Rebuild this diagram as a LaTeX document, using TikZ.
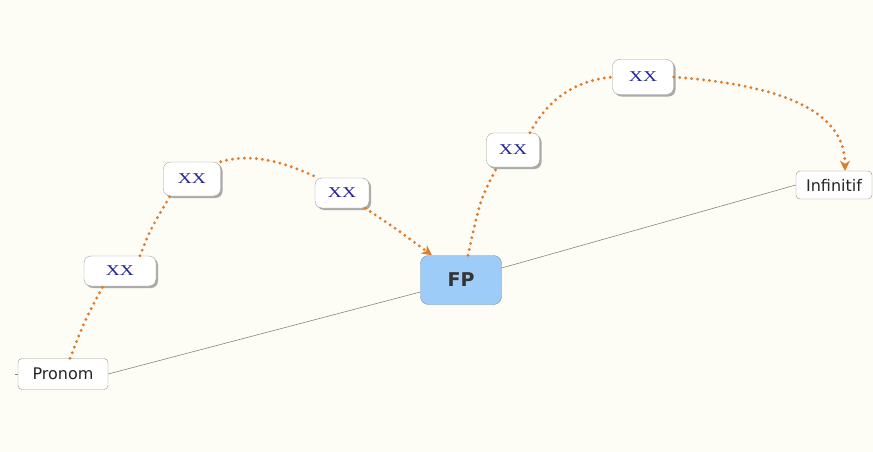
\documentclass[tikz,border=0pt]{standalone}
\usepackage{fontspec}
\setsansfont{DejaVu Sans}
\newfontfamily\xxfont{Liberation Serif}
\usetikzlibrary{shadows,arrows.meta}
\definecolor{bgc}{HTML}{FDFDF6}
\definecolor{dotc}{HTML}{E07B28}
\definecolor{xxc}{HTML}{22229A}
\definecolor{fpfill}{HTML}{9DCCF9}
\definecolor{fpdraw}{HTML}{7A93AC}
\definecolor{linec}{HTML}{8A8478}
\tikzset{
  plainbox/.style={draw=gray!85, fill=white, rounded corners=4pt, font=\sffamily\fontsize{16}{18}\selectfont, text=black!85, inner xsep=6pt, inner ysep=5pt},
  xxbox/.style={draw=gray!75, fill=white, rounded corners=7pt, font=\xxfont\fontsize{15}{17}\selectfont, text=xxc, drop shadow={shadow xshift=2pt, shadow yshift=-2pt, fill=black!55, opacity=.6}},
  fpbox/.style={draw=fpdraw, fill=fpfill, rounded corners=8pt, font=\sffamily\bfseries\fontsize{19}{21}\selectfont, text=black!80},
  dotline/.style={draw=dotc, line width=3.2pt, line cap=round, dash pattern=on 0pt off 6pt},
  tip/.style={-{Stealth[length=10pt,width=10pt,inset=3pt]}},
  base/.style={draw=linec, line width=0.6pt}
}
\newcommand{\xxt}{\scalebox{1.3}[1]{XX}}
\begin{document}
\begin{tikzpicture}[x=1pt,y=-1pt]
\fill[bgc] (0,0) rectangle (873,452);
\useasboundingbox (0,0) rectangle (873,452);
\coordinate (tick) at (15,374);
\node[plainbox, minimum width=90pt, minimum height=31pt] (pronom) at (63,374) {Pronom};
\node[plainbox, minimum width=76pt, minimum height=28pt] (inf) at (834,185) {Infinitif};
\node[fpbox, minimum width=81pt, minimum height=49pt] (fp) at (461,280) {FP};
\draw[base] (tick) -- (pronom.west);
\draw[base] (pronom.east) -- (fp.west |- 0,292);
\draw[base] (fp.east |- 0,268) -- (inf.west);
\node[xxbox, minimum width=72pt, minimum height=30pt] (x1) at (120,271) {\xxt};
\node[xxbox, minimum width=57pt, minimum height=34pt] (x2) at (192,179) {\xxt};
\node[xxbox, minimum width=54pt, minimum height=30pt] (x3) at (342,193) {\xxt};
\node[xxbox, minimum width=53pt, minimum height=34pt] (x4) at (513,150) {\xxt};
\node[xxbox, minimum width=61pt, minimum height=35pt] (x5) at (643,77) {\xxt};
\draw[dotline] ([xshift=7pt]pronom.north) .. controls (85,320) .. ([xshift=-17pt]x1.south);
\draw[dotline] ([xshift=20pt]x1.north) .. controls (150,230) .. ([xshift=-22pt]x2.south);
\draw[dotline] (x2.north east) .. controls (260,150) and (300,170) .. ([xshift=-24pt]x3.north);
\draw[dotline, tip] ([xshift=-4pt]x3.south east) .. controls (395,228) .. ([xshift=-29pt]fp.north);
\draw[dotline] ([xshift=7pt]fp.north) .. controls (480,200) .. ([xshift=-16pt]x4.south);
\draw[dotline] ([xshift=17pt]x4.north) .. controls (550,95) and (580,80) .. (x5.west);
\draw[dotline, tip] (x5.east) .. controls (780,85) and (845,110) .. ([xshift=11pt]inf.north);
\end{tikzpicture}
\end{document}
